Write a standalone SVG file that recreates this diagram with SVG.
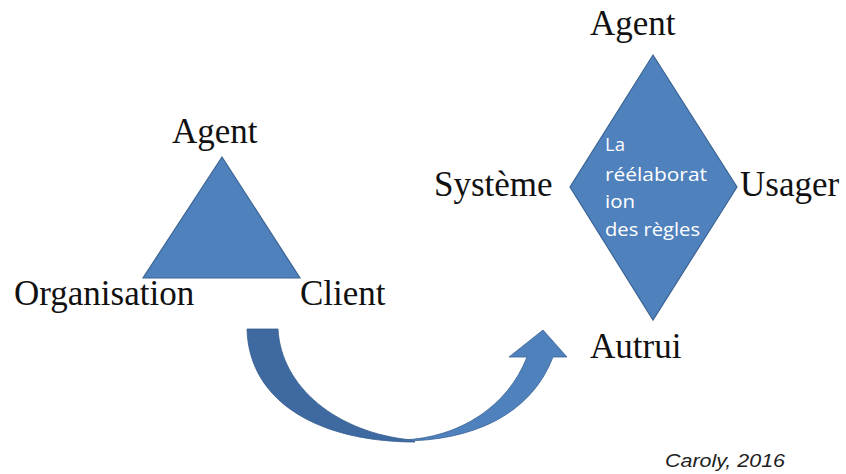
<svg xmlns="http://www.w3.org/2000/svg" width="846" height="474" viewBox="0 0 846 474">
<style>
.shape{fill:#4f81bd;stroke:#3b6494;stroke-width:1.2}
.lbl{font-family:"Liberation Serif","Times New Roman",serif;font-size:35px;fill:#111}
.inner{font-family:"Open Sans","Liberation Sans",sans-serif;font-size:18px;fill:#fff}
.cite{font-family:"Liberation Sans",Arial,sans-serif;font-size:18px;font-style:italic;fill:#222}
</style>
<rect width="846" height="474" fill="#fff"/>
<g id="triangle">
<polygon class="shape" points="222,157 143,278 300,278"/>
<text class="lbl" x="172" y="143">Agent</text>
<text class="lbl" x="14" y="305">Organisation</text>
<text class="lbl" x="300" y="305">Client</text>
</g>
<g id="diamond">
<polygon class="shape" points="653,55 737,187 653,320 570,187"/>
<text class="inner" x="605" y="151" textLength="20" lengthAdjust="spacingAndGlyphs">La</text>
<text class="inner" x="605" y="181" textLength="102" lengthAdjust="spacingAndGlyphs">réélaborat</text>
<text class="inner" x="605" y="208" textLength="30" lengthAdjust="spacingAndGlyphs">ion</text>
<text class="inner" x="605" y="236" textLength="95" lengthAdjust="spacingAndGlyphs">des règles</text>
<text class="lbl" x="590" y="35">Agent</text>
<text class="lbl" x="434" y="196">Système</text>
<text class="lbl" x="740" y="196">Usager</text>
<text class="lbl" x="590" y="358">Autrui</text>
</g>
<g id="connectors">
<path d="M247,329 H278 C281,387 337,433 412,440 L415,442 C322,442 249,404 247,329 Z" fill="#3e6aa1" stroke="#355d8e" stroke-width="0.8"/>
<path d="M402,441 C472,441 531,415 553,357 H567 L543,330 L509,357 H527 C508,406 460,438 402,440 Z" fill="#4f81bd" stroke="#3b6494" stroke-width="0.8"/>
</g>
<text class="cite" x="665" y="467" textLength="120" lengthAdjust="spacingAndGlyphs">Caroly, 2016</text>
</svg>
